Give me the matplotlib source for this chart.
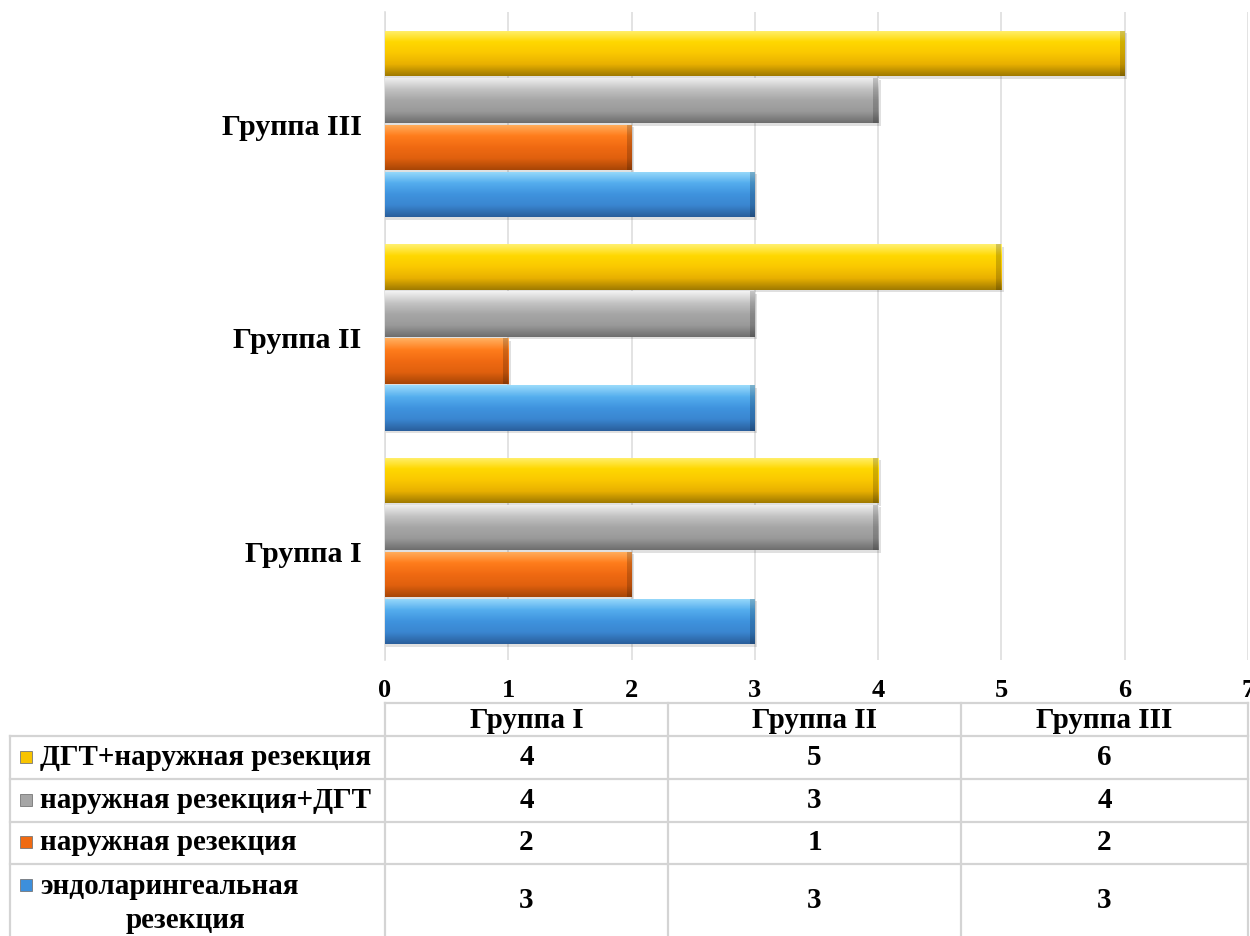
import numpy as np
import matplotlib
matplotlib.use("Agg")
import matplotlib.pyplot as plt
from matplotlib.colors import LinearSegmentedColormap
from matplotlib.lines import Line2D
from matplotlib.patches import Rectangle

plt.rcParams['font.family'] = ['Liberation Serif', 'DejaVu Serif']
plt.rcParams['font.weight'] = 'bold'

groups = ["Группа I", "Группа II", "Группа III"]
series_names = ["эндоларингеальная\nрезекция", "наружная резекция",
                "наружная резекция+ДГТ", "ДГТ+наружная резекция"]
endo = [3, 3, 3]
outer = [2, 1, 2]
outer_dgt = [4, 3, 4]
dgt_outer = [4, 5, 6]
series_values = [endo, outer, outer_dgt, dgt_outer]
x_ticks = [0, 1, 2, 3, 4, 5, 6, 7]

# vertical shading ramps (top -> bottom) for each series
ramps = [
    ["#9ADBFB", "#55AEEE", "#3F93DE", "#3A86D0", "#2A5F9C"],
    ["#FFB060", "#FF7D1C", "#F06A12", "#E0600E", "#A84606"],
    ["#F2F2F2", "#C4C4C4", "#A6A6A6", "#9A9A9A", "#6E6E6E"],
    ["#FFF070", "#FFD800", "#FAC800", "#E8B000", "#A07A00"],
]
base_colors = ["#3D8FDB", "#F06A12", "#A6A6A6", "#F8C400"]

W, H = 1250, 936
fig = plt.figure(figsize=(W / 100, H / 100), dpi=100)

ax = fig.add_axes([385 / W, 1 - 660 / H, (1248 - 385) / W, (660 - 12) / H])
y = np.arange(len(groups))
bh = 0.22
offsets = np.array([-1.5, -0.5, 0.5, 1.5]) * bh

for k, vals in enumerate(series_values):
    cmap = LinearSegmentedColormap.from_list(f"r{k}", ramps[k][::-1])
    grad = np.linspace(0, 1, 64).reshape(-1, 1)
    bars = ax.barh(y + offsets[k], vals, height=bh * 0.97, color=base_colors[k],
                   edgecolor="none", zorder=3)
    for b in bars:
        x0, y0 = b.get_x(), b.get_y()
        w, h = b.get_width(), b.get_height()
        # soft drop shadow
        ax.add_patch(Rectangle((x0, y0 - 0.012), w + 0.02, h, facecolor="#000000",
                               alpha=0.12, edgecolor="none", zorder=2))
        im = ax.imshow(grad, extent=[x0, x0 + w, y0, y0 + h], origin="lower",
                       cmap=cmap, aspect="auto", zorder=4, interpolation="bilinear")
        im.set_clip_path(b)
        # darker bevel on the bar end
        ax.add_patch(Rectangle((x0 + w - 0.04, y0), 0.04, h, facecolor="#000000",
                               alpha=0.18, edgecolor="none", zorder=5))

ax.set_xlim(0, 7)
ax.set_ylim(-0.51, 2.525)
ax.set_aspect("auto")
ax.set_xticks(x_ticks)
ax.set_xticklabels([str(t) for t in x_ticks], fontsize=19, fontweight="bold")
ax.set_yticks(y)
ax.set_yticklabels(groups, fontsize=21.5, fontweight="bold")
ax.tick_params(axis="x", length=0, pad=14)
ax.tick_params(axis="y", length=0, pad=17)
ax.grid(axis="x", color="#DEDEDE", linewidth=1.2, zorder=0)
for s in ["top", "right", "bottom"]:
    ax.spines[s].set_visible(False)
ax.spines["left"].set_color("#DEDEDE")
ax.spines["left"].set_linewidth(1.2)

# data table under the chart
tax = fig.add_axes([0, 0, 1, 1], zorder=-1)
tax.set_xlim(0, W)
tax.set_ylim(H, 0)
tax.axis("off")

col_edges = [385, 668, 961, 1248]
row_edges = [703, 736, 779, 822, 864, H + 5]
lc = "#D4D4D4"
lw = 1.6
tax.add_line(Line2D([385, 1248], [row_edges[0]] * 2, color=lc, lw=lw))
for yy in row_edges[1:-1]:
    tax.add_line(Line2D([10, 1248], [yy, yy], color=lc, lw=lw))
for xx in col_edges:
    tax.add_line(Line2D([xx, xx], [row_edges[0], H + 5], color=lc, lw=lw))
tax.add_line(Line2D([10, 10], [row_edges[1], H + 5], color=lc, lw=lw))

fs = 21
for j, g in enumerate(groups):
    cx = (col_edges[j] + col_edges[j + 1]) / 2
    tax.text(cx, (row_edges[0] + row_edges[1]) / 2 + 1, g, ha="center", va="center",
             fontsize=fs, fontweight="bold")

# rows listed top to bottom: last series first
row_order = [3, 2, 1, 0]
for r, k in enumerate(row_order):
    top, bot = row_edges[r + 1], row_edges[r + 2]
    if k == 0:
        bot = 936
    cy = (top + bot) / 2
    tax.add_patch(Rectangle((20, cy - 7 if k != 0 else 879), 12, 12,
                            facecolor=base_colors[k], edgecolor="#777777", lw=0.6))
    if k == 0:
        first, second = series_names[k].split("\n")
        tax.text(40, 887, first, ha="left", va="center", fontsize=fs, fontweight="bold")
        tax.text(186, 920, second, ha="center", va="center", fontsize=fs, fontweight="bold")
    else:
        tax.text(40, cy, series_names[k], ha="left", va="center", fontsize=fs,
                 fontweight="bold")
    for j in range(len(groups)):
        cx = (col_edges[j] + col_edges[j + 1]) / 2
        tax.text(cx, cy, str(series_values[k][j]), ha="center", va="center",
                 fontsize=fs, fontweight="bold")

fig.savefig("out.png", dpi=100)
